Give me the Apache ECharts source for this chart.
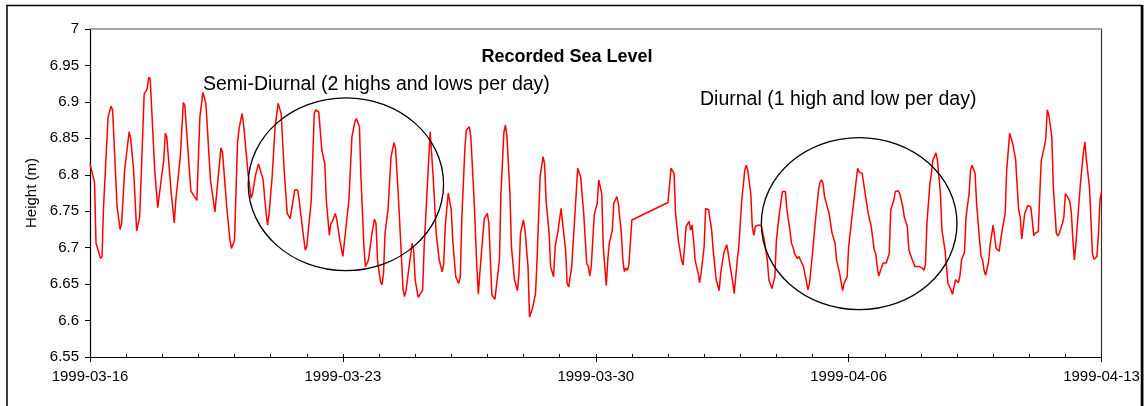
<!DOCTYPE html>
<html>
<head>
<meta charset="utf-8">
<script src="https://cdn.jsdelivr.net/npm/echarts@6/dist/echarts.min.js"></script>
<style>
html,body{margin:0;padding:0;background:#fff;}
#chart{width:1145px;height:406px;}
</style>
</head>
<body>
<div id="chart"></div>
<script>
// Sea level readings: [hours since 1999-03-16 00:00, height in m]
const readings = [
[0,6.815],[1,6.815],[3,6.790],[4,6.706],[7,6.685],[8,6.688],[9,6.756],[12,6.879],[14,6.894],[15,6.889],
[18,6.756],[20,6.725],[21,6.733],[23,6.806],[26,6.859],[27,6.850],[29,6.806],[31,6.723],[33,6.742],[36,6.911],
[38,6.918],[39,6.934],[40,6.931],[43,6.806],[45,6.755],[47,6.788],[49,6.820],[50,6.857],[51,6.852],[54,6.774],
[56,6.734],[57,6.765],[60,6.825],[62,6.899],[63,6.895],[67,6.778],[71,6.765],[73,6.879],[75,6.913],[77,6.898],
[80,6.793],[83,6.749],[85,6.793],[87,6.837],[88,6.831],[90,6.779],[91,6.752],[93,6.710],[94,6.699],[96,6.710],
[98,6.843],[99,6.863],[101,6.884],[102,6.870],[105,6.802],[107,6.768],[108,6.774],[110,6.800],[112,6.815],[113,6.815],
[115,6.793],[117,6.747],[118,6.731],[119,6.747],[121,6.797],[123,6.866],[125,6.898],[127,6.884],[129,6.806],[131,6.747],
[133,6.740],[134,6.740],[136,6.779],[137,6.781],[138,6.779],[139,6.765],[141,6.729],[143,6.697],[144,6.701],[147,6.765],
[149,6.884],[150,6.889],[152,6.886],[154,6.834],[156,6.815],[157,6.765],[159,6.717],[160,6.733],[161,6.736],[163,6.747],
[164,6.738],[166,6.710],[168,6.688],[169,6.688],[172,6.765],[174,6.852],[176,6.873],[177,6.877],[179,6.866],[180,6.797],
[182,6.701],[183,6.674],[185,6.683],[187,6.715],[189,6.739],[190,6.733],[191,6.683],[193,6.653],[194,6.649],[195,6.665],
[196,6.720],[198,6.752],[200,6.825],[202,6.844],[203,6.836],[205,6.765],[207,6.683],[208,6.642],[209,6.633],[210,6.642],
[212,6.674],[214,6.706],[215,6.697],[216,6.656],[218,6.632],[219,6.635],[221,6.642],[222,6.701],[225,6.820],[226,6.859],
[227,6.857],[228,6.797],[230,6.720],[232,6.683],[234,6.667],[235,6.678],[236,6.729],[238,6.775],[240,6.752],[241,6.710],
[243,6.660],[245,6.651],[246,6.660],[247,6.738],[249,6.834],[250,6.861],[252,6.866],[253,6.852],[255,6.774],[257,6.674],
[258,6.636],[259,6.665],[261,6.717],[262,6.740],[264,6.747],[265,6.733],[266,6.683],[267,6.635],[269,6.629],[270,6.628],
[272,6.683],[273,6.774],[275,6.859],[276,6.868],[277,6.852],[279,6.774],[280,6.701],[282,6.656],[284,6.641],[285,6.665],
[286,6.720],[288,6.738],[289,6.724],[291,6.674],[292,6.605],[294,6.617],[296,6.637],[297,6.683],[299,6.797],[301,6.825],
[302,6.815],[303,6.765],[305,6.720],[306,6.674],[308,6.660],[309,6.701],[311,6.724],[313,6.754],[314,6.733],[316,6.697],
[317,6.651],[318,6.646],[320,6.674],[321,6.706],[323,6.774],[324,6.809],[326,6.797],[328,6.747],[330,6.678],[331,6.675],
[332,6.661],[333,6.674],[335,6.745],[337,6.761],[338,6.793],[340,6.774],[341,6.701],[343,6.648],[344,6.683],[345,6.706],
[347,6.724],[348,6.761],[349,6.762],[350,6.770],[351,6.761],[353,6.720],[354,6.683],[355,6.667],[356,6.672],[357,6.669],
[358,6.676],[360,6.738],[361,6.739],[384,6.762],[386,6.809],[387,6.810],[388,6.802],[389,6.747],[391,6.708],[393,6.683],
[394,6.676],[395,6.701],[396,6.729],[398,6.736],[399,6.724],[400,6.731],[401,6.710],[402,6.683],[404,6.665],[405,6.652],
[406,6.665],[408,6.701],[409,6.754],[411,6.752],[413,6.724],[414,6.697],[416,6.656],[418,6.641],[419,6.665],[421,6.692],
[423,6.704],[424,6.692],[426,6.665],[427,6.653],[428,6.637],[430,6.683],[431,6.701],[433,6.765],[435,6.806],[436,6.813],
[437,6.806],[439,6.774],[440,6.729],[441,6.717],[442,6.729],[444,6.731],[445,6.733],[446,6.730],[448,6.710],[450,6.683],
[451,6.656],[453,6.644],[455,6.660],[456,6.710],[458,6.747],[460,6.777],[462,6.777],[463,6.752],[465,6.724],[466,6.706],
[467,6.701],[468,6.692],[470,6.685],[471,6.688],[472,6.683],[474,6.674],[476,6.653],[477,6.642],[478,6.651],[480,6.692],
[482,6.738],[484,6.779],[485,6.790],[486,6.793],[487,6.788],[488,6.770],[491,6.747],[493,6.720],[495,6.706],[496,6.683],
[498,6.665],[500,6.641],[501,6.651],[503,6.660],[504,6.701],[506,6.738],[508,6.774],[510,6.809],[511,6.804],[512,6.806],
[513,6.802],[515,6.774],[517,6.747],[518,6.738],[519,6.729],[521,6.697],[522,6.692],[523,6.674],[524,6.661],[526,6.674],
[527,6.679],[529,6.679],[531,6.692],[532,6.752],[534,6.765],[535,6.777],[537,6.778],[538,6.774],[540,6.756],[541,6.742],
[543,6.729],[544,6.697],[546,6.685],[547,6.683],[548,6.674],[549,6.676],[551,6.674],[553,6.672],[554,6.669],[555,6.676],
[556,6.733],[558,6.788],[559,6.802],[560,6.820],[562,6.830],[563,6.820],[565,6.774],[566,6.724],[568,6.697],[569,6.674],
[570,6.651],[572,6.642],[573,6.636],[574,6.646],[575,6.656],[576,6.658],[577,6.652],[578,6.662],[579,6.683],[581,6.694],
[582,6.742],[584,6.774],[585,6.806],[586,6.813],[588,6.802],[589,6.761],[591,6.710],[592,6.688],[593,6.683],[594,6.669],
[595,6.662],[597,6.681],[598,6.704],[600,6.731],[601,6.715],[602,6.699],[604,6.695],[605,6.710],[606,6.724],[608,6.747],
[609,6.806],[611,6.857],[612,6.859],[613,6.843],[615,6.820],[616,6.783],[617,6.752],[618,6.742],[619,6.712],[620,6.729],
[621,6.747],[623,6.758],[625,6.756],[626,6.738],[627,6.716],[628,6.720],[630,6.722],[631,6.774],[632,6.820],[634,6.838],
[635,6.850],[636,6.889],[637,6.882],[639,6.852],[640,6.783],[642,6.720],[643,6.716],[644,6.720],[646,6.733],[647,6.742],
[648,6.774],[650,6.768],[651,6.763],[652,6.747],[653,6.710],[654,6.683],[655,6.706],[656,6.733],[658,6.788],[660,6.831],
[661,6.845],[662,6.820],[664,6.783],[665,6.738],[666,6.692],[667,6.684],[669,6.688],[670,6.720],[671,6.765],[672,6.777]
];

// Axis settings
const startDate = Date.UTC(1999, 2, 16);
const xMinHours = 0, xMaxHours = 672, xMajorHours = 168, xMinorHours = 24;
const yMin = 6.55, yMax = 7, yStep = 0.05;

// Annotation ellipses: [centre hour, centre height, half-width (hours), half-height (m)]
const ellipses = [
  [170, 6.787, 64.9, 0.1186],
  [511, 6.733, 65.0, 0.1181]
];
const titleText = 'Recorded Sea Level';
const noteSemi = 'Semi-Diurnal (2 highs and lows per day)';
const noteDiurnal = 'Diurnal (1 high and low per day)';
const yName = 'Height (m)';

const FONT = '"Liberation Sans", Arial, sans-serif';

function hourLabel(h) {
  return new Date(startDate + h * 3600000).toISOString().slice(0, 10);
}

const chart = echarts.init(document.getElementById('chart'), null, {renderer: 'canvas'});

const option = {
  animation: false,
  backgroundColor: '#ffffff',
  textStyle: {fontFamily: FONT},
  grid: {left: 90, right: 43.5, top: 29, bottom: 49, outerBoundsMode: 'none', containLabel: false},
  xAxis: [
    {
      type: 'value', position: 'bottom', min: xMinHours, max: xMaxHours, interval: xMajorHours,
      axisLine: {show: true, onZero: false, lineStyle: {color: '#000', width: 1.2}},
      axisTick: {show: true, inside: false, length: 5, lineStyle: {color: '#000', width: 1}},
      axisLabel: {show: true, margin: 12, fontSize: 15, color: '#000', fontFamily: FONT,
        formatter: function (v) { return hourLabel(v); }},
      splitLine: {show: false}
    },
    {
      type: 'value', position: 'bottom', min: xMinHours, max: xMaxHours, interval: xMinorHours,
      axisLine: {show: false},
      axisTick: {show: true, inside: true, length: 3, lineStyle: {color: '#000', width: 1}},
      axisLabel: {show: false},
      splitLine: {show: false}
    },
    {
      type: 'value', position: 'top', min: xMinHours, max: xMaxHours,
      axisLine: {show: true, lineStyle: {color: '#8c8c8c', width: 1.5}},
      axisTick: {show: false}, axisLabel: {show: false}, splitLine: {show: false}
    }
  ],
  yAxis: [
    {
      type: 'value', position: 'left', min: yMin, max: yMax, interval: yStep,
      name: yName, nameLocation: 'middle', nameGap: 48, nameRotate: 90,
      nameTextStyle: {fontSize: 15, color: '#000', fontFamily: FONT},
      axisLine: {show: true, onZero: false, lineStyle: {color: '#000', width: 1.2}},
      axisTick: {show: true, inside: false, length: 5, lineStyle: {color: '#000', width: 1}},
      axisLabel: {margin: 11, fontSize: 15, color: '#000', fontFamily: FONT},
      splitLine: {show: false}
    },
    {
      type: 'value', position: 'right', min: yMin, max: yMax,
      axisLine: {show: true, onZero: false, lineStyle: {color: '#333', width: 1.2}},
      axisTick: {show: false}, axisLabel: {show: false}, splitLine: {show: false}
    }
  ],
  series: [
    {
      type: 'line', name: 'Sea level', xAxisIndex: 0, yAxisIndex: 0,
      data: readings, showSymbol: false, symbol: 'none', smooth: false,
      lineStyle: {color: '#ff0000', width: 1.5}, z: 3
    },
    {
      type: 'custom', xAxisIndex: 0, yAxisIndex: 0, data: ellipses, clip: false, z: 4,
      renderItem: function (params, api) {
        const c = api.coord([api.value(0), api.value(1)]);
        const s = api.size([api.value(2), api.value(3)]);
        return {
          type: 'ellipse',
          shape: {cx: c[0], cy: c[1], rx: s[0], ry: s[1]},
          style: {fill: 'none', stroke: '#000', lineWidth: 1.3}
        };
      }
    }
  ],
  graphic: [
    {type: 'rect', z: 0, silent: true,
      shape: {x: 7, y: 5.5, width: 1134.5, height: 430},
      style: {fill: 'none', stroke: '#000', lineWidth: 1.5}},
    {type: 'line', silent: true, shape: {x1: 1142.2, y1: 5, x2: 1142.2, y2: 406},
      style: {stroke: '#000', lineWidth: 2.5}},
    {type: 'text', silent: true, x: 567, y: 57,
      style: {text: titleText, font: 'bold 18px ' + FONT, fill: '#000', align: 'center', verticalAlign: 'middle'}},
    {type: 'text', silent: true, x: 203, y: 84.5,
      style: {text: noteSemi, font: '19.5px ' + FONT, fill: '#000', align: 'left', verticalAlign: 'middle'}},
    {type: 'text', silent: true, x: 700, y: 100,
      style: {text: noteDiurnal, font: '19.5px ' + FONT, fill: '#000', align: 'left', verticalAlign: 'middle'}}
  ]
};
chart.setOption(option);
</script>
</body>
</html>
